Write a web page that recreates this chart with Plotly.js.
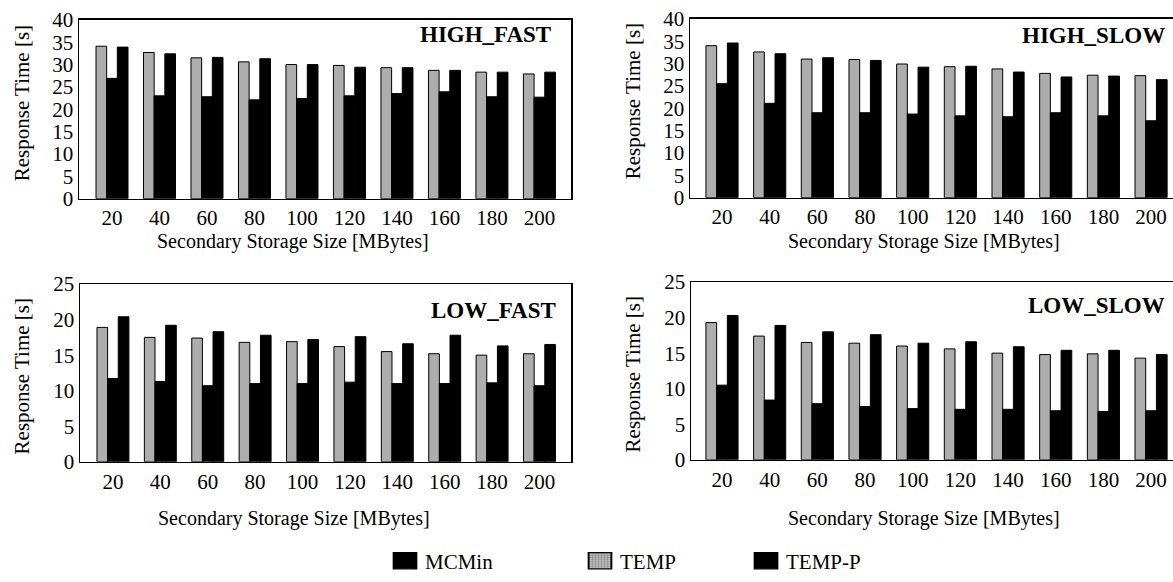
<!DOCTYPE html>
<html>
<head>
<meta charset="utf-8">
<script src="https://cdn.plot.ly/plotly-3.0.1.min.js"></script>
<style>html,body{margin:0;padding:0;background:#fff;}</style>
</head>
<body>
<div id="chart" style="width:1173px;height:582px;"></div>
<script>
// ---- data ----
const sizes = [20, 40, 60, 80, 100, 120, 140, 160, 180, 200];
const seriesNames = ["MCMin", "TEMP", "TEMP-P"];

const hfTEMP  = [34.1, 32.7, 31.5, 30.6, 30.0, 29.8, 29.3, 28.7, 28.3, 27.9];
const hfMCMin = [26.9, 23.0, 22.8, 22.1, 22.4, 23.0, 23.5, 23.9, 22.8, 22.7];
const hfTEMPP = [33.9, 32.4, 31.6, 31.3, 30.0, 29.4, 29.3, 28.7, 28.3, 28.3];

const hsTEMP  = [34.0, 32.6, 31.0, 30.9, 29.9, 29.3, 28.8, 27.8, 27.4, 27.3];
const hsMCMin = [25.5, 21.1, 19.0, 19.0, 18.7, 18.3, 18.1, 19.0, 18.3, 17.2];
const hsTEMPP = [34.6, 32.2, 31.3, 30.7, 29.2, 29.4, 28.1, 27.0, 27.2, 26.4];

const lfTEMP  = [18.9, 17.5, 17.4, 16.8, 16.9, 16.2, 15.5, 15.2, 15.0, 15.2];
const lfMCMin = [11.7, 11.3, 10.7, 11.0, 11.0, 11.2, 11.0, 11.0, 11.1, 10.7];
const lfTEMPP = [20.4, 19.2, 18.3, 17.8, 17.2, 17.6, 16.6, 17.8, 16.3, 16.5];

const lsTEMP  = [19.3, 17.4, 16.5, 16.4, 16.0, 15.6, 15.0, 14.8, 14.9, 14.3];
const lsMCMin = [10.5, 8.4, 7.9, 7.5, 7.2, 7.1, 7.1, 6.9, 6.8, 6.9];
const lsTEMPP = [20.3, 18.9, 18.0, 17.6, 16.4, 16.6, 15.9, 15.4, 15.4, 14.8];

const panelTitles = ["HIGH_FAST", "HIGH_SLOW", "LOW_FAST", "LOW_SLOW"];
const xTitle = "Secondary Storage Size [MBytes]";
const yTitle = "Response Time [s]";

// ---- build ----
const FONT = "Liberation Serif";
const W = 1173, H = 582;
const px = v => v / W;
const py = v => 1 - v / H;

const panels = [
  {temp: hfTEMP, mc: hfMCMin, tp: hfTEMPP, xa: "x",  ya: "y"},
  {temp: hsTEMP, mc: hsMCMin, tp: hsTEMPP, xa: "x2", ya: "y2"},
  {temp: lfTEMP, mc: lfMCMin, tp: lfTEMPP, xa: "x3", ya: "y3"},
  {temp: lsTEMP, mc: lsMCMin, tp: lsTEMPP, xa: "x4", ya: "y4"}
];

const grayMarker = {
  color: "#bdbdbd",
  line: {color: "#000", width: 1},
  pattern: {shape: ".", fgcolor: "#8a8a8a", bgcolor: "#c8c8c8", size: 2, solidity: 0.5}
};
const blackMarker = {color: "#000", line: {color: "#000", width: 1}};

const traces = [];
panels.forEach((p, i) => {
  const first = i === 0;
  traces.push({type: "bar", name: seriesNames[1], x: sizes, y: p.temp, xaxis: p.xa, yaxis: p.ya,
    marker: grayMarker, showlegend: first, legend: "legend2"});
  traces.push({type: "bar", name: seriesNames[0], x: sizes, y: p.mc, xaxis: p.xa, yaxis: p.ya,
    marker: blackMarker, showlegend: first, legend: "legend"});
  traces.push({type: "bar", name: seriesNames[2], x: sizes, y: p.tp, xaxis: p.xa, yaxis: p.ya,
    marker: blackMarker, showlegend: first, legend: "legend3"});
});

const axFont = {family: FONT, size: 21, color: "#000"};
function xax(domain, range, anchor) {
  return {domain, range, anchor, tickvals: sizes, ticktext: sizes.map(String),
    showline: true, mirror: true, linecolor: "#000", linewidth: 1.5,
    showgrid: false, zeroline: false, ticks: "", tickfont: axFont, fixedrange: true};
}
function yax(domain, range, anchor) {
  return {domain, range, anchor, dtick: 5, tick0: 0,
    showline: true, mirror: true, linecolor: "#000", linewidth: 1.5,
    showgrid: false, zeroline: false, ticks: "", tickfont: axFont, fixedrange: true};
}

const annotations = [];
function ann(text, x, y, opts) {
  annotations.push(Object.assign({text, x: px(x), y: py(y), xref: "paper", yref: "paper",
    showarrow: false, font: {family: FONT, size: 20, color: "#000"},
    xanchor: "center", yanchor: "middle"}, opts || {}));
}
const titleFont = {family: FONT, size: 23, color: "#000", weight: "bold"};
// panel titles
ann(panelTitles[0], 553, 35, {xanchor: "right", font: titleFont});
ann(panelTitles[1], 1167, 36, {xanchor: "right", font: titleFont});
ann(panelTitles[2], 558, 313, {xanchor: "right", font: titleFont});
ann(panelTitles[3], 1167, 308, {xanchor: "right", font: titleFont});
// x titles
ann(xTitle, 293, 243);
ann(xTitle, 924, 243);
ann(xTitle, 294, 522);
ann(xTitle, 924, 522);
// y titles
ann(yTitle, 22, 104, {textangle: -90, font: {family: FONT, size: 21, color: "#000"}});
ann(yTitle, 633, 102, {textangle: -90, font: {family: FONT, size: 21, color: "#000"}});
ann(yTitle, 22, 379, {textangle: -90, font: {family: FONT, size: 21, color: "#000"}});
ann(yTitle, 633, 377, {textangle: -90, font: {family: FONT, size: 21, color: "#000"}});

const legFont = {family: FONT, size: 21, color: "#000"};
function leg(xc) {
  return {x: px(xc - 21), y: py(565), xanchor: "left", yanchor: "middle", orientation: "h",
    font: legFont, bgcolor: "rgba(0,0,0,0)", borderwidth: 0};
}

const layout = {
  width: W, height: H, autosize: false,
  margin: {l: 0, r: 0, t: 0, b: 0},
  paper_bgcolor: "#fff", plot_bgcolor: "#fff",
  barmode: "group", bargap: 0.326, bargroupgap: 0,
  font: {family: FONT, size: 20, color: "#000"},
  xaxis:  xax([px(79), px(571)], [6.1, 213.3], "y"),
  yaxis:  yax([py(200), py(20)], [0, 40], "x"),
  xaxis2: xax([px(690), 1], [6.57, 209.2], "y2"),
  yaxis2: yax([py(199), py(19)], [0, 40], "x2"),
  xaxis3: xax([px(80), px(571)], [6.1, 213.3], "y3"),
  yaxis3: yax([py(465), py(286)], [0, 25], "x3"),
  xaxis4: xax([px(691), 1], [7.0, 209.2], "y4"),
  yaxis4: yax([py(463), py(284)], [0, 25], "x4"),
  showlegend: true,
  legend: leg(406),
  legend2: leg(601),
  legend3: leg(767),
  annotations
};

Plotly.newPlot("chart", traces, layout, {displayModeBar: false, staticPlot: true}).then(() => {
  document.querySelectorAll(".legendpoints path").forEach(p => {
    const t = p.getAttribute("transform") || "";
    p.setAttribute("transform", t + " scale(1.9,1.35)");
  });
});
</script>
</body>
</html>
